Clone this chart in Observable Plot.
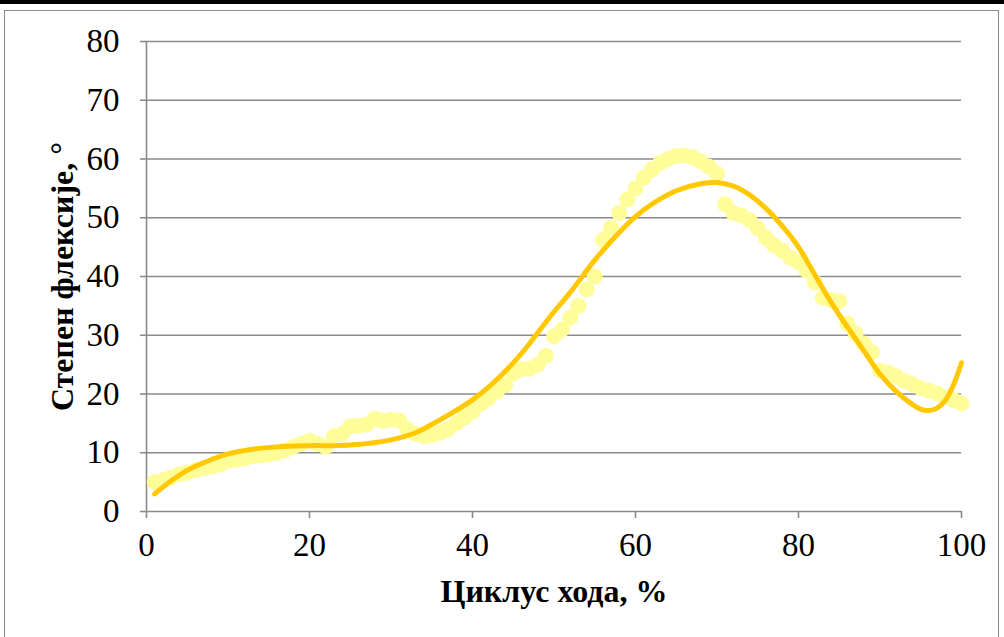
<!DOCTYPE html>
<html>
<head>
<meta charset="utf-8">
<script src="https://cdn.jsdelivr.net/npm/d3@7"></script>
<script src="https://cdn.jsdelivr.net/npm/@observablehq/plot@0.6"></script>
<style>
  html, body { margin: 0; padding: 0; background: #fff; }
  #wrap { position: relative; width: 1004px; height: 637px; overflow: hidden; }
  #topbar { position: absolute; left: 0; top: 0; width: 1004px; height: 4px; background: #000; }
  #frame { position: absolute; left: 4px; top: 10px; width: 995px; height: 640px;
           border: 1.5px solid #8a8a8a; box-sizing: border-box; }
  #chart { position: absolute; left: 0; top: 0; }
</style>
</head>
<body>
<div id="wrap">
  <div id="topbar"></div>
  <div id="frame"></div>
  <div id="chart"></div>
</div>
<script>
// Gait cycle position, % (one sample per percent)
const cycle = d3.range(1, 101);

// Measured flexion angle, degrees, at each percent of the cycle
const flexion = [
  5.0, 5.3, 5.8, 6.3, 6.6, 7.0, 7.4, 7.6, 8.0, 8.6,
  8.8, 9.0, 9.4, 9.5, 9.7, 10.0, 10.4, 11.0, 11.5, 12.0,
  11.5, 11.0, 12.8, 13.2, 14.5, 14.6, 14.8, 15.8, 15.4, 15.6,
  15.5, 14.0, 13.2, 12.8, 13.0, 13.4, 14.0, 15.0, 16.0, 17.0,
  18.3, 19.3, 20.4, 21.5, 23.5, 24.2, 24.3, 25.0, 26.5, 29.8,
  31.0, 33.0, 35.0, 37.8, 40.0, 46.2, 48.3, 50.8, 53.1, 55.0,
  56.8, 58.2, 59.3, 60.0, 60.5, 60.6, 60.3, 59.6, 58.7, 57.5,
  52.3, 50.8, 50.4, 49.6, 48.2, 46.6, 45.3, 44.4, 43.2, 42.4,
  41.0, 39.0, 36.4, 36.0, 35.8, 32.0, 30.3, 28.6, 27.1, 24.0,
  23.6, 23.0, 22.2, 21.6, 21.0, 20.6, 20.1, 19.5, 19.0, 18.4
];

// Polynomial trend line of the flexion angle
const trendX = [1, 3, 5, 7, 10, 13, 16, 20, 25, 30, 33, 35, 38, 40, 42, 45, 47, 50, 52, 55,
                58, 60, 62, 65, 68, 70, 72, 74, 76, 78, 80, 82, 84, 86, 88, 90, 92, 94, 95, 96,
                97, 98, 99, 100];
const trendY = [3.0, 5.2, 7.0, 8.3, 9.8, 10.6, 11.0, 11.2, 11.3, 12.2, 13.4, 14.8, 17.2, 19.0, 21.2, 25.3, 28.6, 34.0, 37.3, 42.8,
                47.5, 50.2, 52.3, 54.6, 55.8, 56.0, 55.4, 53.9, 51.6, 48.6, 45.0, 40.3, 35.6, 31.4, 27.4, 23.4, 20.4, 18.2, 17.4, 17.2,
                17.6, 18.9, 21.5, 25.3];

const xTicks = [0, 20, 40, 60, 80, 100];
const yTicks = [0, 10, 20, 30, 40, 50, 60, 70, 80];

const xTitle = "Циклус хода, %";
const yTitle = "Степен флексије, °";

const points = cycle.map((c, i) => ({c, v: flexion[i]}));
const trend = trendX.map((c, i) => ({c, v: trendY[i]}));

const grid = "#8a8a8a";

const chart = Plot.plot({
  width: 1004,
  height: 637,
  marginLeft: 146,
  marginRight: 43,
  marginTop: 41,
  marginBottom: 126,
  style: {fontFamily: "'Liberation Serif', 'Times New Roman', serif", fontSize: "33px", color: "#000", background: "transparent"},
  x: {domain: [0, 100]},
  y: {domain: [0, 80]},
  marks: [
    Plot.gridY(yTicks, {stroke: grid, strokeOpacity: 1, strokeWidth: 1.6}),
    Plot.ruleX([0], {stroke: grid, strokeWidth: 1.6}),
    Plot.axisY(yTicks, {tickSize: 6, tickPadding: 21, stroke: grid, strokeWidth: 1.6, fill: "#000", label: null, fontSize: 33}),
    Plot.axisX(xTicks, {tickSize: 7, tickPadding: 14, stroke: grid, strokeWidth: 1.6, fill: "#000", label: null, fontSize: 33}),
    Plot.dot(points, {x: "c", y: "v", r: 8, fill: "#FFFD99", stroke: "none"}),
    Plot.line(trend, {x: "c", y: "v", stroke: "#FFC800", strokeWidth: 5, curve: "catmull-rom", strokeLinecap: "round"}),
    Plot.text([xTitle], {frameAnchor: "bottom", dy: 80, text: d => d, fontWeight: "bold", fontSize: 32, lineAnchor: "middle", textAnchor: "middle"}),
    Plot.text([yTitle], {frameAnchor: "left", dx: -84, text: d => d, rotate: -90, fontWeight: "bold", fontSize: 32, lineAnchor: "middle", textAnchor: "middle"})
  ]
});

document.getElementById("chart").appendChild(chart);
</script>
</body>
</html>
